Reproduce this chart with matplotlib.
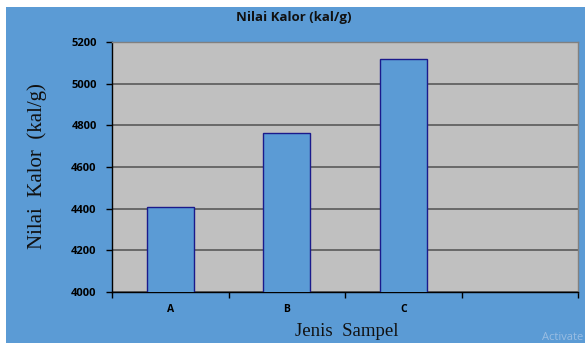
import matplotlib
matplotlib.use("Agg")
import matplotlib.pyplot as plt
from matplotlib.patches import Rectangle
import numpy as np

categories = ["A", "B", "C", ""]
values = [4410, 4765, 5120]
yticks = [4000, 4200, 4400, 4600, 4800, 5000, 5200]

fig = plt.figure(figsize=(5.85, 3.45), dpi=100)
fig.patch.set_facecolor("white")
fig.patches.append(Rectangle((6/585, 2/345), 1 - 6/585, 1 - 9/345,
                             transform=fig.transFigure, facecolor="#5B9BD5",
                             edgecolor="none", zorder=-10))

ax = fig.add_axes([112/585, 53/345, (578-112)/585, (292-42)/345])
ax.set_facecolor("#C0C0C0")

x = np.arange(len(categories))
ax.bar(x[:len(values)], values, width=0.4, color="#5B9BD5",
       edgecolor="#1A1A8C", linewidth=1.0, zorder=3)

ax.set_ylim(4000, 5200)
ax.set_xlim(-0.5, len(categories) - 0.5)
ax.set_yticks(yticks)
ax.set_yticklabels([str(v) for v in yticks], fontsize=8, fontweight="bold",
                   family="Open Sans")
ax.yaxis.grid(True, color="#505050", linewidth=1.1, zorder=1)
ax.set_axisbelow(True)

ax.set_xticks(x)
ax.set_xticklabels(categories, fontsize=7.5, fontweight="bold", family="Open Sans")
ax.set_xticks(np.arange(-0.5, len(categories)), minor=True)
ax.tick_params(axis="x", which="major", length=0, pad=9)
ax.tick_params(axis="x", which="minor", length=4, width=1, color="black", direction="out")
ax.tick_params(axis="y", which="major", length=4, width=1, color="black", direction="out", pad=7)

for s in ["left", "bottom"]:
    ax.spines[s].set_color("black")
    ax.spines[s].set_linewidth(1.0)
for s in ["top", "right"]:
    ax.spines[s].set_color("#808080")
    ax.spines[s].set_linewidth(1.0)

fig.text(294/585, 1 - 17/345, "Nilai Kalor (kal/g)", ha="center", va="center",
         fontsize=9.5, fontweight="bold", family="Open Sans", color="#111111")
fig.text(37/585, 1 - 166/345, "Nilai  Kalor  (kal/g)", ha="center", va="center",
         rotation=90, fontsize=15, family="Liberation Serif", color="#111111")
fig.text(347/585, 1 - 332/345, "Jenis  Sampel", ha="center", va="center",
         fontsize=13.5, family="Liberation Serif", color="#111111")
fig.text(563/585, 1 - 337/345, "Activate", ha="center", va="center",
         fontsize=8, family="Open Sans", color="#A9C6E6", alpha=0.8)

fig.savefig("out.png", dpi=100, facecolor=fig.get_facecolor())
